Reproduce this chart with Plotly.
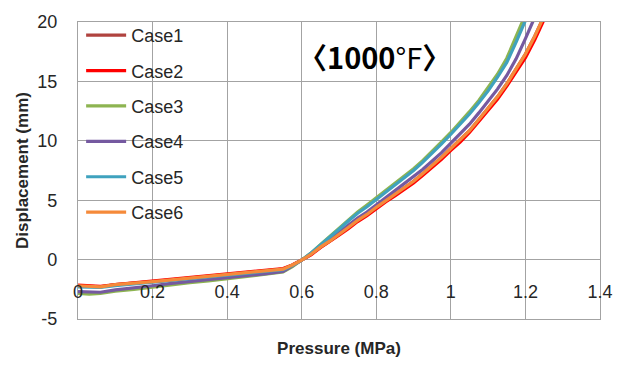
import plotly.graph_objects as go

# Pressure steps (MPa) shared by all cases
pressure = [0, 0.03, 0.06, 0.1, 0.15, 0.2, 0.25, 0.3, 0.35, 0.4, 0.45, 0.5, 0.55,
            0.575, 0.6, 0.625, 0.65, 0.675, 0.7, 0.725, 0.75, 0.775, 0.8, 0.825,
            0.85, 0.875, 0.9, 0.925, 0.95, 0.975, 1.0, 1.025, 1.05, 1.075, 1.1,
            1.125, 1.15, 1.175, 1.2, 1.225, 1.25]

# Displacement (mm) for each case
case1 = [-2.2, -2.25, -2.3, -2.1, -2.0, -1.85, -1.7, -1.55, -1.45, -1.3, -1.15, -1.0, -0.8,
         -0.45, -0.05, 0.45, 1.05, 1.55, 2.1, 2.7, 3.3, 3.8, 4.4, 4.95,
         5.5, 6.05, 6.6, 7.25, 7.9, 8.6, 9.35, 10.1, 10.85, 11.8, 12.7,
         13.7, 14.8, 16.0, 17.3, 18.8, 20.5]
case2 = [-2.15, -2.2, -2.25, -2.1, -1.95, -1.8, -1.65, -1.5, -1.4, -1.25, -1.1, -0.95, -0.75,
         -0.45, -0.05, 0.4, 1.0, 1.5, 2.05, 2.6, 3.2, 3.7, 4.3, 4.85,
         5.35, 5.9, 6.45, 7.1, 7.75, 8.45, 9.2, 9.9, 10.7, 11.6, 12.5,
         13.5, 14.6, 15.75, 17.0, 18.5, 20.2]
case3 = [-2.85, -2.9, -2.85, -2.65, -2.5, -2.3, -2.1, -1.95, -1.8, -1.6, -1.45, -1.25, -1.05,
         -0.6, -0.05, 0.55, 1.25, 1.95, 2.65, 3.35, 4.0, 4.6, 5.2, 5.8,
         6.4, 7.0, 7.65, 8.35, 9.1, 9.9, 10.7, 11.55, 12.45, 13.4, 14.45,
         15.6, 16.95, 18.8, 20.7, 22.5, 24.3]
case4 = [-2.7, -2.75, -2.75, -2.55, -2.4, -2.2, -2.0, -1.85, -1.7, -1.55, -1.35, -1.2, -1.0,
         -0.55, -0.05, 0.5, 1.1, 1.7, 2.3, 2.9, 3.5, 4.0, 4.6, 5.2,
         5.75, 6.35, 6.95, 7.6, 8.3, 9.0, 9.8, 10.6, 11.4, 12.35, 13.3,
         14.35, 15.5, 16.9, 18.6, 20.4, 22.2]
case5 = [-2.3, -2.35, -2.35, -2.2, -2.05, -1.9, -1.75, -1.6, -1.5, -1.35, -1.2, -1.05, -0.85,
         -0.5, -0.05, 0.55, 1.2, 1.9, 2.55, 3.25, 3.9, 4.45, 5.05, 5.65,
         6.25, 6.85, 7.5, 8.2, 8.95, 9.75, 10.55, 11.4, 12.25, 13.2, 14.2,
         15.35, 16.6, 18.3, 20.2, 22.0, 23.8]
case6 = [-2.2, -2.25, -2.3, -2.1, -2.0, -1.85, -1.7, -1.55, -1.45, -1.3, -1.15, -1.0, -0.8,
         -0.45, -0.05, 0.45, 1.05, 1.55, 2.1, 2.7, 3.3, 3.8, 4.4, 4.95,
         5.5, 6.05, 6.6, 7.25, 7.9, 8.6, 9.35, 10.1, 10.85, 11.8, 12.7,
         13.7, 14.8, 16.0, 17.3, 18.8, 20.5]

names = ["Case1", "Case2", "Case3", "Case4", "Case5", "Case6"]
series = [case1, case2, case3, case4, case5, case6]
colors = ["#B0433F", "#FF0000", "#8DB451", "#7559A0", "#3FA2BE", "#F58A3A"]

x_ticks = [0, 0.2, 0.4, 0.6, 0.8, 1.0, 1.2, 1.4]
x_tick_text = ["0", "0.2", "0.4", "0.6", "0.8", "1", "1.2", "1.4"]
y_ticks = [-5, 0, 5, 10, 15, 20]
y_tick_text = ["-5", "0", "5", "10", "15", "20"]

FONT = "Liberation Sans, Arial, sans-serif"
GRID = "#A3A3A3"
TXT = "#262626"

fig = go.Figure()
for name, ys, col in zip(names, series, colors):
    fig.add_trace(go.Scatter(
        x=pressure, y=ys, name=name, mode="lines",
        line=dict(color=col, width=3.2),
        legendgroup=name,
    ))

fig.update_layout(
    width=625, height=365,
    margin=dict(l=78, r=24, t=15, b=44),
    paper_bgcolor="white", plot_bgcolor="white",
    font=dict(family=FONT, size=17, color=TXT),
    showlegend=True,
    legend=dict(
        x=0.006, y=1.017, xanchor="left", yanchor="top",
        bgcolor="rgba(0,0,0,0)", borderwidth=0,
        font=dict(family=FONT, size=18, color=TXT),
        tracegroupgap=9, itemwidth=40, maxheight=400,
    ),
    xaxis=dict(
        range=[0, 1.4], tickvals=x_ticks, showticklabels=False,
        showgrid=True, gridcolor=GRID, gridwidth=1.3,
        showline=True, linecolor=GRID, linewidth=1.3, mirror=True,
        zeroline=False, ticks="",
        title=dict(text="<b>Pressure (MPa)</b>", standoff=22,
                   font=dict(family=FONT, size=17, color=TXT)),
    ),
    xaxis2=dict(
        overlaying="x", anchor="free", position=0.2,
        range=[0, 1.4], tickvals=x_ticks, ticktext=x_tick_text,
        showgrid=False, showline=False, zeroline=False,
        ticks="outside", ticklen=16, tickcolor="rgba(0,0,0,0)",
        tickfont=dict(family=FONT, size=18, color=TXT),
    ),
    yaxis=dict(
        range=[-5, 20], tickvals=y_ticks, ticktext=y_tick_text,
        showgrid=True, gridcolor=GRID, gridwidth=1.3,
        showline=True, linecolor=GRID, linewidth=1.3, mirror=True,
        zeroline=False,
        ticks="outside", ticklen=16, tickcolor="rgba(0,0,0,0)",
        tickfont=dict(family=FONT, size=18, color=TXT),
        title=dict(text="<b>Displacement (mm)</b>", standoff=4,
                   font=dict(family=FONT, size=17, color=TXT)),
    ),
)

# Invisible trace so the overlaid tick axis is rendered
fig.add_trace(go.Scatter(x=[0, 1.4], y=[0, 0], xaxis="x2", mode="lines",
                         line=dict(width=0), showlegend=False, hoverinfo="skip"))

fig.add_annotation(
    x=0.795, y=17.1, xref="x", yref="y", showarrow=False,
    text="<b>〈</b><b>1000</b>°F<b>〉</b>",
    font=dict(family="Liberation Sans Narrow, Noto Sans CJK KR, sans-serif", size=29, color="black"),
)

fig.write_html("out.html")
